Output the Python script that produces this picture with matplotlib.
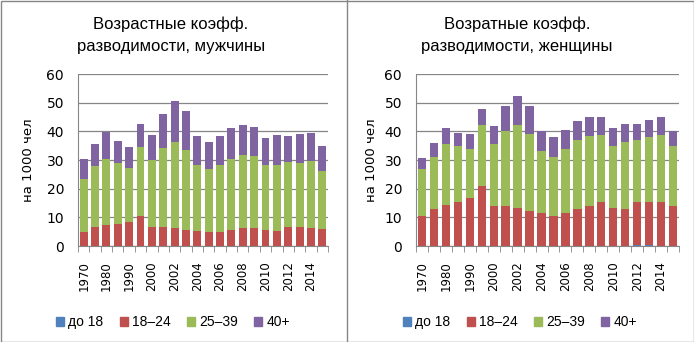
import numpy as np
import matplotlib.pyplot as plt
from matplotlib.lines import Line2D
from matplotlib.patches import Rectangle, Patch

years = ["1970", "1975", "1980", "1985", "1990", "1995"] + [str(y) for y in range(2000, 2016)]
groups = ["до 18", "18–24", "25–39", "40+"]
colors = ["#4F81BD", "#C0504D", "#9BBB59", "#8064A2"]

# men, per age group (per 1000)
men_u18 = [0.0] * 22
men_18_24 = [5.0, 6.8, 7.5, 7.8, 8.5, 10.6, 6.8, 6.8, 6.4, 5.7, 5.3, 5.0,
             5.0, 5.7, 6.4, 6.4, 5.7, 5.3, 6.8, 6.8, 6.4, 6.1]
men_25_39 = [18.5, 21.0, 23.0, 21.0, 18.6, 23.8, 23.1, 27.3, 29.8, 27.7, 22.8, 21.7,
             23.4, 24.8, 25.2, 24.9, 22.4, 23.1, 22.4, 22.3, 23.1, 20.2]
men_40 = [6.7, 7.7, 9.3, 7.8, 7.3, 8.1, 8.8, 11.9, 14.3, 13.6, 10.2, 9.5,
          9.9, 10.6, 10.6, 10.2, 9.6, 10.3, 9.1, 9.9, 9.9, 8.5]

# women, per age group (per 1000)
wom_u18 = [0.0] * 18 + [0.3, 0.3, 0.0, 0.0]
wom_18_24 = [10.6, 13.0, 14.4, 15.5, 16.6, 20.8, 13.8, 13.8, 13.4, 12.3, 11.6, 10.6,
             11.6, 13.0, 14.1, 15.2, 13.4, 13.0, 14.9, 14.9, 15.2, 13.8]
wom_25_39 = [16.1, 18.2, 21.1, 19.3, 17.1, 21.4, 21.7, 26.3, 28.8, 26.7, 21.4, 20.6,
             22.1, 24.0, 24.2, 23.5, 21.4, 23.2, 21.8, 22.8, 23.4, 21.0]
wom_40 = [3.9, 4.7, 5.6, 4.6, 5.4, 5.5, 6.3, 8.7, 10.1, 9.8, 7.1, 6.8,
          6.8, 6.6, 6.6, 6.3, 6.3, 6.3, 5.5, 6.0, 6.4, 5.3]

W, H = 694, 342
fig = plt.figure(figsize=(W / 100, H / 100), dpi=100)
font = 'Liberation Sans'
grey = '#868686'


def draw_panel(rect, series, title, title_x, legend_x, ylabel_x):
    l, b, w, h = rect
    ax = fig.add_axes([l / W, (H - b - h) / H, w / W, h / H])
    x = np.arange(len(years))
    bottom = np.zeros(len(years))
    for vals, c in zip(series, colors):
        ax.bar(x, vals, 0.7, bottom=bottom, color=c, linewidth=0)
        bottom += np.array(vals)
    ax.set_xlim(-0.5, len(years) - 0.5)
    ax.set_ylim(0, 60)
    ax.set_yticks(range(0, 61, 10))
    ax.yaxis.grid(True, color=grey, linewidth=0.9)
    ax.set_axisbelow(True)
    ax.set_xticks(x[::2])
    ax.set_xticklabels(years[::2], rotation=90, fontsize=8.5)
    ax.set_xticks(np.arange(-0.5, len(years), 1), minor=True)
    ax.tick_params(axis='x', which='major', length=0, pad=11)
    ax.tick_params(axis='x', which='minor', length=4, color=grey)
    ax.tick_params(axis='y', length=0, labelsize=10, pad=10)
    for s in ['top', 'right']:
        ax.spines[s].set_visible(False)
    for s in ['left', 'bottom']:
        ax.spines[s].set_color(grey)
    fig.text(ylabel_x / W, 1 - 160 / H, "на 1000 чел", rotation=90, fontsize=9.5,
             ha='center', va='center')
    fig.text(title_x / W, 1 - 35 / H, title, ha='center', va='center',
             fontsize=12, family=font, linespacing=1.6)
    handles = [Patch(color=c) for c in colors]
    fig.legend(handles, groups, loc='center', bbox_to_anchor=(legend_x / W, 1 - 322 / H),
               ncol=4, frameon=False, prop={'family': font, 'size': 10},
               handlelength=0.55, handleheight=0.6, handletextpad=0.3, columnspacing=1.2)
    return ax


draw_panel((78, 74, 250, 172), [men_u18, men_18_24, men_25_39, men_40],
           "Возрастные коэфф.\nразводимости, мужчины", 171, 173, 29)
draw_panel((416, 74, 263, 172), [wom_u18, wom_18_24, wom_25_39, wom_40],
           "Возратные коэфф.\nразводимости, женщины", 517, 520, 371)

fig.add_artist(Rectangle((0.5 / W, 0.5 / H), (W - 1) / W, (H - 1) / H,
                         transform=fig.transFigure, fill=False, edgecolor=grey, linewidth=1))
fig.add_artist(Line2D([346.5 / W, 346.5 / W], [0, 1], transform=fig.transFigure,
                      color=grey, linewidth=1))

fig.savefig("out.png", dpi=100)
